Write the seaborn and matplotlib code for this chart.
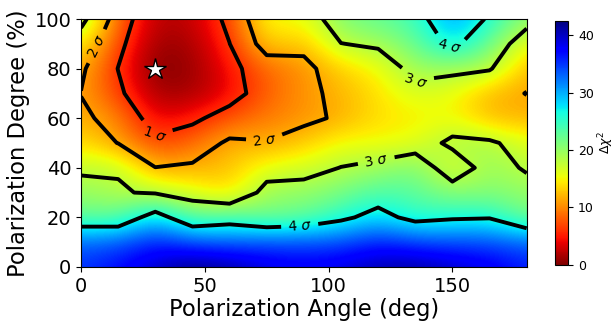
import numpy as np
import matplotlib
matplotlib.use("Agg")
import matplotlib.pyplot as plt
import seaborn as sns

# grid of the scan
angles = [0, 15, 30, 45, 60, 75, 90, 105, 120, 135, 150, 165, 180]
degrees = [0, 10, 20, 30, 40, 50, 60, 70, 80, 90, 100]

# delta chi^2, one row per polarization degree (values along the angles)
dchi_p0 = [35, 37, 40, 42.5, 41.5, 39, 38, 39, 41, 41.5, 40, 38.5, 36]
dchi_p10 = [33, 33.5, 36, 34, 33.3, 34, 34, 34, 36, 34.5, 34, 34, 33]
dchi_p20 = [22.8, 22.5, 29.2, 22.3, 24, 21.7, 22.6, 25.5, 28.5, 25, 26, 26.3, 21.6]
dchi_p30 = [20, 18.5, 17.8, 16.2, 13.5, 19.9, 20, 21.5, 23.75, 23, 20.5, 21, 20]
dchi_p40 = [17.4, 17.95, 11.4, 12, 12.5, 16, 16.6, 18.3, 19.5, 21.5, 15.3, 20.1, 17.7]
dchi_p50 = [14, 11.2, 7, 8.5, 12.1, 11.5, 13, 15.5, 15.2, 15.8, 19.2, 19, 16]
dchi_p60 = [12, 10.05, 3.5, 5, 7.8, 9.5, 10.5, 11.8, 14, 14.5, 15.4, 12.3, 12]
dchi_p70 = [11.2, 6.8, 1.5, 1.5, 4, 8.2, 10.5, 12.1, 14, 16.5, 15.5, 12, 11.25]
dchi_p80 = [12.1, 5.8, 0, 1, 4.5, 8.7, 10.3, 13.3, 15, 19.8, 19.25, 18.67, 12]
dchi_p90 = [15, 7.1, 1, 1.5, 5.85, 13.5, 12.3, 18.1, 19, 22, 28, 22, 15]
dchi_p100 = [20, 8.5, 2, 2.5, 6.9, 15.9, 15, 21.3, 22.5, 24.4, 31, 25.9, 20.2]

# confidence levels drawn as contours
sigma_levels = [5.9, 11.3, 18.2, 26.6]
sigma_names = ['1 $\\sigma$', '2 $\\sigma$', '3 $\\sigma$', '4 $\\sigma$']

best_angle, best_degree = 30, 80

grid = np.array([dchi_p0, dchi_p10, dchi_p20, dchi_p30, dchi_p40, dchi_p50,
                 dchi_p60, dchi_p70, dchi_p80, dchi_p90, dchi_p100])

sns.set_style('ticks', {'axes.edgecolor': 'black', 'text.color': 'black',
                        'xtick.color': 'black', 'ytick.color': 'black',
                        'axes.labelcolor': 'black'})
plt.rcParams['font.family'] = ['DejaVu Sans']

fig = plt.figure(figsize=(6.16, 3.25), dpi=100)
ax = fig.add_axes([0.1315, 0.1785, 0.7235, 0.763])
cax = fig.add_axes([0.901, 0.185, 0.0216, 0.751])

cmap = sns.color_palette('jet_r', as_cmap=True)
da = (angles[1] - angles[0]) / 2
dd = (degrees[1] - degrees[0]) / 2
im = ax.imshow(grid, origin='lower', cmap=cmap, vmin=0, vmax=grid.max(),
               interpolation='bicubic', aspect='auto',
               extent=[angles[0] - da, angles[-1] + da, degrees[0] - dd, degrees[-1] + dd])

cs = ax.contour(angles, degrees, grid, levels=sigma_levels, colors='black', linewidths=2.8)
spots = [(5.4, 89.5), (27.6, 51.5), (74, 48), (119.4, 42), (135.4, 73), (88.3, 18), (149, 89.4)]
ax.clabel(cs, fmt=dict(zip(sigma_levels, sigma_names)), fontsize=10, inline=True, manual=spots)

ax.plot(best_angle, best_degree, marker='*', markersize=16, color='white',
        markeredgecolor='black', markeredgewidth=1)

ax.set_xlim(angles[0], angles[-1])
ax.set_ylim(degrees[0], degrees[-1])
ax.set_xticks([0, 50, 100, 150])
ax.set_yticks([0, 20, 40, 60, 80, 100])
ax.tick_params(labelsize=14)
ax.set_xlabel('Polarization Angle (deg)', fontsize=16.3, labelpad=2)
ax.set_ylabel('Polarization Degree (%)', fontsize=16.3, labelpad=3)

cbar = fig.colorbar(im, cax=cax, ticks=[0, 10, 20, 30, 40])
cbar.ax.tick_params(labelsize=9)
cbar.set_label('$\\Delta\\chi^2$', fontsize=9, labelpad=2)

fig.savefig('out.png', dpi=100)
